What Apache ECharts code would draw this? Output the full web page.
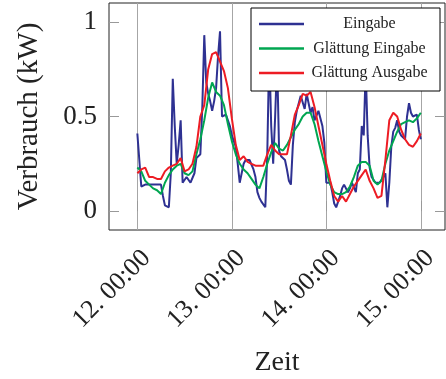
<!DOCTYPE html>
<html>
<head>
<meta charset="utf-8">
<script src="https://cdn.jsdelivr.net/npm/echarts@6/dist/echarts.min.js"></script>
<style>
html,body{margin:0;padding:0;background:#fff;}
#chart{width:446px;height:379px;}
</style>
</head>
<body>
<div id="chart"></div>
<script>
// Time axis: days (12 = "12. 00:00")
const startDay = 12;
const tickDays = [12, 13, 14, 15];
const yTicks = [0, 0.5, 1];
const seriesNames = ['Eingabe', 'Glättung Eingabe', 'Glättung Ausgabe'];

// Eingabe: half-hourly samples from 12. 00:00
const eingabe = [
  0.41,0.41,0.13,0.14,0.14,0.14,0.14,0.14,0.14,0.14,
  0.14,0.14,0.14,0.08,0.03,0.02,0.02,0.20,0.70,0.45,
  0.25,0.35,0.48,0.15,0.16,0.18,0.17,0.15,0.15,0.20,
  0.28,0.28,0.30,0.55,0.93,0.68,0.62,0.58,0.53,0.58,
  0.65,0.82,0.95,0.50,0.50,0.51,0.50,0.45,0.40,0.37,
  0.34,0.25,0.15,0.20,0.25,0.27,0.27,0.27,0.26,0.22,
  0.18,0.10,0.07,0.05,0.05,0.02,0.30,0.85,0.45,0.25,
  0.50,0.80,0.32,0.29,0.28,0.27,0.22,0.16,0.14,0.35,
  0.47,0.53,0.57,0.61,0.60,0.54,0.62,0.62,0.52,0.55,
  0.48,0.47,0.53,0.52,0.45,0.36,0.15,0.16,0.15,0.10,
  0.04,0.02,0.03,0.08,0.12,0.14,0.15,0.10,0.12,0.15,
  0.14,0.10,0.20,0.22,0.45,0.40,0.75,0.40,0.23,0.18,
  0.17,0.15,0.14,0.15,0.16,0.18,0.20,0.02,0.15,0.34,
  0.42,0.44,0.48,0.42,0.40,0.39,0.38,0.50,0.57,0.52,
  0.50,0.50,0.51,0.43,0.38
];
// Glättung Eingabe: hourly samples
const glaettungEingabe = [
  0.23,0.21,0.16,0.14,0.12,0.11,0.09,0.15,0.19,0.22,
  0.24,0.25,0.20,0.19,0.21,0.30,0.38,0.48,0.60,0.68,
  0.63,0.61,0.56,0.46,0.37,0.30,0.25,0.22,0.20,0.17,
  0.14,0.12,0.18,0.25,0.31,0.36,0.33,0.32,0.35,0.39,
  0.43,0.46,0.50,0.52,0.52,0.46,0.37,0.29,0.21,0.14,
  0.10,0.09,0.09,0.10,0.13,0.18,0.24,0.26,0.26,0.24,
  0.16,0.14,0.16,0.25,0.32,0.37,0.42,0.46,0.47,0.48,
  0.47,0.49,0.52
];
// Glättung Ausgabe: hourly samples
const glaettungAusgabe = [
  0.20,0.22,0.23,0.18,0.18,0.17,0.17,0.21,0.23,0.24,
  0.25,0.28,0.21,0.22,0.25,0.34,0.50,0.56,0.75,0.83,
  0.84,0.79,0.74,0.65,0.49,0.35,0.27,0.29,0.26,0.25,
  0.24,0.24,0.24,0.30,0.35,0.32,0.30,0.30,0.30,0.40,
  0.51,0.56,0.62,0.61,0.63,0.55,0.45,0.35,0.25,0.16,
  0.08,0.05,0.08,0.05,0.09,0.13,0.16,0.19,0.22,0.16,
  0.12,0.07,0.08,0.27,0.48,0.52,0.50,0.43,0.38,0.35,
  0.34,0.37,0.41
];

function toPairs(values, stepHours) {
  return values.map((v, i) => [startDay + i * stepHours / 24, v]);
}

const FONT = 'Liberation Serif';
const chart = echarts.init(document.getElementById('chart'), null, {renderer: 'canvas'});
chart.setOption({
  animation: false,
  backgroundColor: '#fff',
  grid: {
    left: 109, top: 3, width: 336, height: 227,
    outerBoundsMode: 'none',
    containLabel: false,
    show: true, borderColor: '#222', borderWidth: 1, backgroundColor: 'transparent'
  },
  legend: {
    orient: 'vertical',
    left: 251, top: 8,
    padding: [8, 10, 10, 8],
    itemGap: 8.5,
    itemWidth: 45,
    itemHeight: 2.5,
    icon: 'rect',
    borderColor: '#000',
    borderWidth: 1,
    borderRadius: 0,
    backgroundColor: '#fff',
    data: seriesNames,
    formatter: '{c|{name}}',
    textStyle: {
      rich: {
        c: {width: 121, align: 'center', fontSize: 16, lineHeight: 18, fontFamily: FONT, color: '#222'}
      }
    }
  },
  xAxis: {
    type: 'value',
    min: 11.7, max: 15.256,
    name: 'Zeit',
    nameLocation: 'middle',
    nameGap: 119,
    nameTextStyle: {fontFamily: FONT, fontSize: 28, color: '#222'},
    axisLine: {show: false},
    axisTick: {show: true, inside: true, length: 10, lineStyle: {color: '#999'}, customValues: tickDays},
    axisLabel: {
      customValues: tickDays,
      rotate: 45,
      align: 'right',
      verticalAlign: 'top',
      margin: 15,
      fontFamily: FONT, fontSize: 26, color: '#222',
      formatter: v => Math.round(v) + '. 00:00'
    },
    splitLine: {show: true, lineStyle: {color: '#a6a6a6', width: 1}}
  },
  yAxis: [{
    type: 'value',
    min: -0.1, max: 1.1,
    name: 'Verbrauch (kW)',
    nameLocation: 'middle',
    nameGap: 65,
    nameTextStyle: {fontFamily: FONT, fontSize: 29, color: '#222'},
    axisLine: {show: false},
    axisTick: {show: true, inside: true, length: 10, lineStyle: {color: '#999'}, customValues: yTicks},
    axisLabel: {customValues: yTicks, margin: 12, padding: [4, 0, 0, 0], fontFamily: FONT, fontSize: 27, color: '#222'},
    splitLine: {show: false}
  }, {
    type: 'value',
    position: 'right',
    min: -0.1, max: 1.1,
    axisLine: {show: false},
    axisTick: {show: true, inside: true, length: 10, lineStyle: {color: '#999'}, customValues: yTicks},
    axisLabel: {show: false},
    splitLine: {show: false}
  }],
  series: [
    {
      name: seriesNames[0], type: 'line', data: toPairs(eingabe, 0.5),
      showSymbol: false, symbol: 'none', color: '#2e3192',
      lineStyle: {width: 2, color: '#2e3192'}, clip: true
    },
    {
      name: seriesNames[1], type: 'line', data: toPairs(glaettungEingabe, 1),
      showSymbol: false, symbol: 'none', color: '#00a651',
      lineStyle: {width: 2, color: '#00a651'}, clip: true
    },
    {
      name: seriesNames[2], type: 'line', data: toPairs(glaettungAusgabe, 1),
      showSymbol: false, symbol: 'none', color: '#ed1c24',
      lineStyle: {width: 2, color: '#ed1c24'}, clip: true
    }
  ]
});
</script>
</body>
</html>
